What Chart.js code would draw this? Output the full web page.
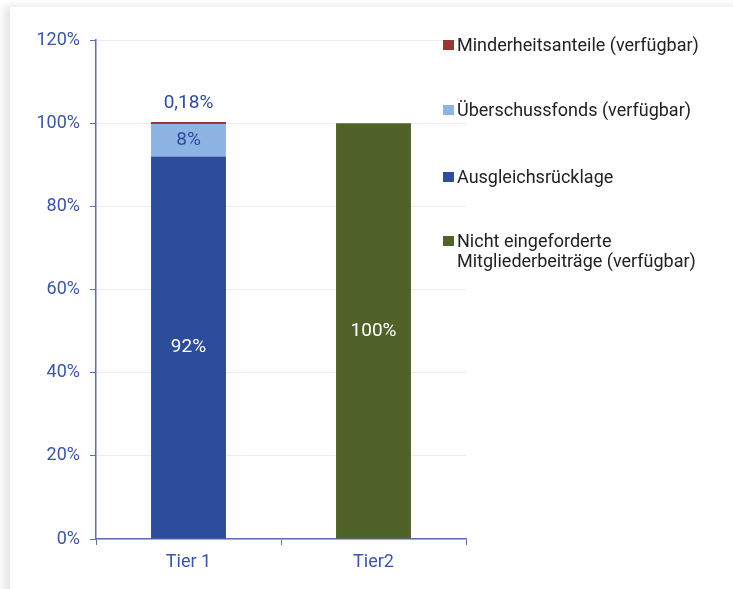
<!DOCTYPE html>
<html>
<head>
<meta charset="utf-8">
<script src="https://cdn.jsdelivr.net/npm/chart.js@4"></script>
<style>
  html, body { margin: 0; padding: 0; background: #fff; }
  #wrap { position: relative; width: 733px; height: 589px; overflow: hidden; }
  #card { position: absolute; left: 10px; top: 6px; width: 740px; height: 600px;
          background: #fff; border-top: 1px solid #f0f0f0;
          box-shadow: -6px 0 8px rgba(0,0,0,0.10); }
  canvas { position: absolute; left: 0; top: 0; }
  .legend { position: absolute; left: 443px; font-family: Roboto, sans-serif; font-size: 18px;
            color: #222; line-height: 20px; }
  .legend span.sw { position: absolute; left: 0; top: 5px; width: 11px; height: 10px; }
  .legend div.tx { margin-left: 14px; }
</style>
</head>
<body>
<div id="wrap">
  <div id="card"></div>
  <canvas id="c" width="733" height="589"></canvas>
  <div id="legend"></div>
</div>
<script>
  // data
  const categories = ['Tier 1', 'Tier2'];
  const seriesNames = ['Ausgleichsrücklage', 'Überschussfonds (verfügbar)', 'Minderheitsanteile (verfügbar)', 'Nicht eingeforderte Mitgliederbeiträge (verfügbar)'];
  const ausgleich = [92, null];
  const ueberschuss = [7.82, null];
  const minderheit = [0.18, null];
  const mitglieder = [null, 100];
  const valueLabels = [['92%', null], ['8%', null], ['0,18%', null], [null, '100%']];
  const yTicks = [0, 20, 40, 60, 80, 100, 120];

  const colors = ['#2E4C9C', '#8EB4E3', '#9B3535', '#4F6228'];
  const labelColors = ['#ffffff', '#2E4C9C', '#2E4C9C', '#ffffff'];
  const axisBlue = '#5A6FB4';
  const tickBlue = '#3B55A5';

  // labels drawn on bar segments
  const segLabels = {
    id: 'segLabels',
    afterDatasetsDraw(chart) {
      const ctx = chart.ctx;
      ctx.save();
      ctx.font = '19px Roboto, sans-serif';
      ctx.textAlign = 'center';
      ctx.textBaseline = 'middle';
      chart.data.datasets.forEach((ds, di) => {
        const meta = chart.getDatasetMeta(di);
        meta.data.forEach((bar, i) => {
          const txt = valueLabels[di][i];
          if (!txt) return;
          ctx.fillStyle = labelColors[di];
          let y = (bar.y + bar.base) / 2;
          if (di === 2) y = bar.y - 19; // small slice: label above the bar
          ctx.fillText(txt, bar.x, y);
        });
      });
      ctx.restore();
    }
  };

  const data = [ausgleich, ueberschuss, minderheit, mitglieder];
  new Chart(document.getElementById('c'), {
    type: 'bar',
    data: {
      labels: categories,
      datasets: data.map((d, i) => ({
        label: seriesNames[i],
        data: d,
        backgroundColor: colors[i],
        borderWidth: 0,
        minBarLength: i === 2 ? 2 : 0,
        barPercentage: 0.405,
        categoryPercentage: 1
      }))
    },
    options: {
      responsive: false,
      animation: false,
      layout: { padding: { left: 0, right: 267, top: 40, bottom: 0 } },
      plugins: { legend: { display: false }, tooltip: { enabled: false } },
      scales: {
        x: {
          stacked: true,
          afterFit: s => { s.height = 50; },
          grid: { drawOnChartArea: false, color: axisBlue, tickLength: 6, offset: true },
          border: { color: axisBlue, width: 1.5 },
          ticks: { color: tickBlue, font: { family: 'Roboto, sans-serif', size: 18 }, padding: 7 }
        },
        y: {
          stacked: true,
          min: 0, max: 120,
          afterFit: s => { s.width = 96; },
          afterBuildTicks: s => { s.ticks = yTicks.map(v => ({ value: v })); },
          grid: { color: '#ececec', tickColor: axisBlue, tickLength: 6 },
          border: { color: axisBlue, width: 1.5 },
          ticks: {
            color: tickBlue, font: { family: 'Roboto, sans-serif', size: 18 }, padding: 10,
            callback: v => v + '%'
          }
        }
      }
    },
    plugins: [segLabels]
  });

  // legend (order as in reference)
  const legendItems = [
    { name: seriesNames[2], color: colors[2], top: 35 },
    { name: seriesNames[1], color: colors[1], top: 100 },
    { name: seriesNames[0], color: colors[0], top: 167 },
    { name: 'Nicht eingeforderte<br>Mitgliederbeiträge (verfügbar)', color: colors[3], top: 231 }
  ];
  const lg = document.getElementById('legend');
  legendItems.forEach(it => {
    const el = document.createElement('div');
    el.className = 'legend';
    el.style.top = it.top + 'px';
    el.innerHTML = `<span class="sw" style="background:${it.color}"></span><div class="tx">${it.name}</div>`;
    lg.appendChild(el);
  });
</script>
</body>
</html>
